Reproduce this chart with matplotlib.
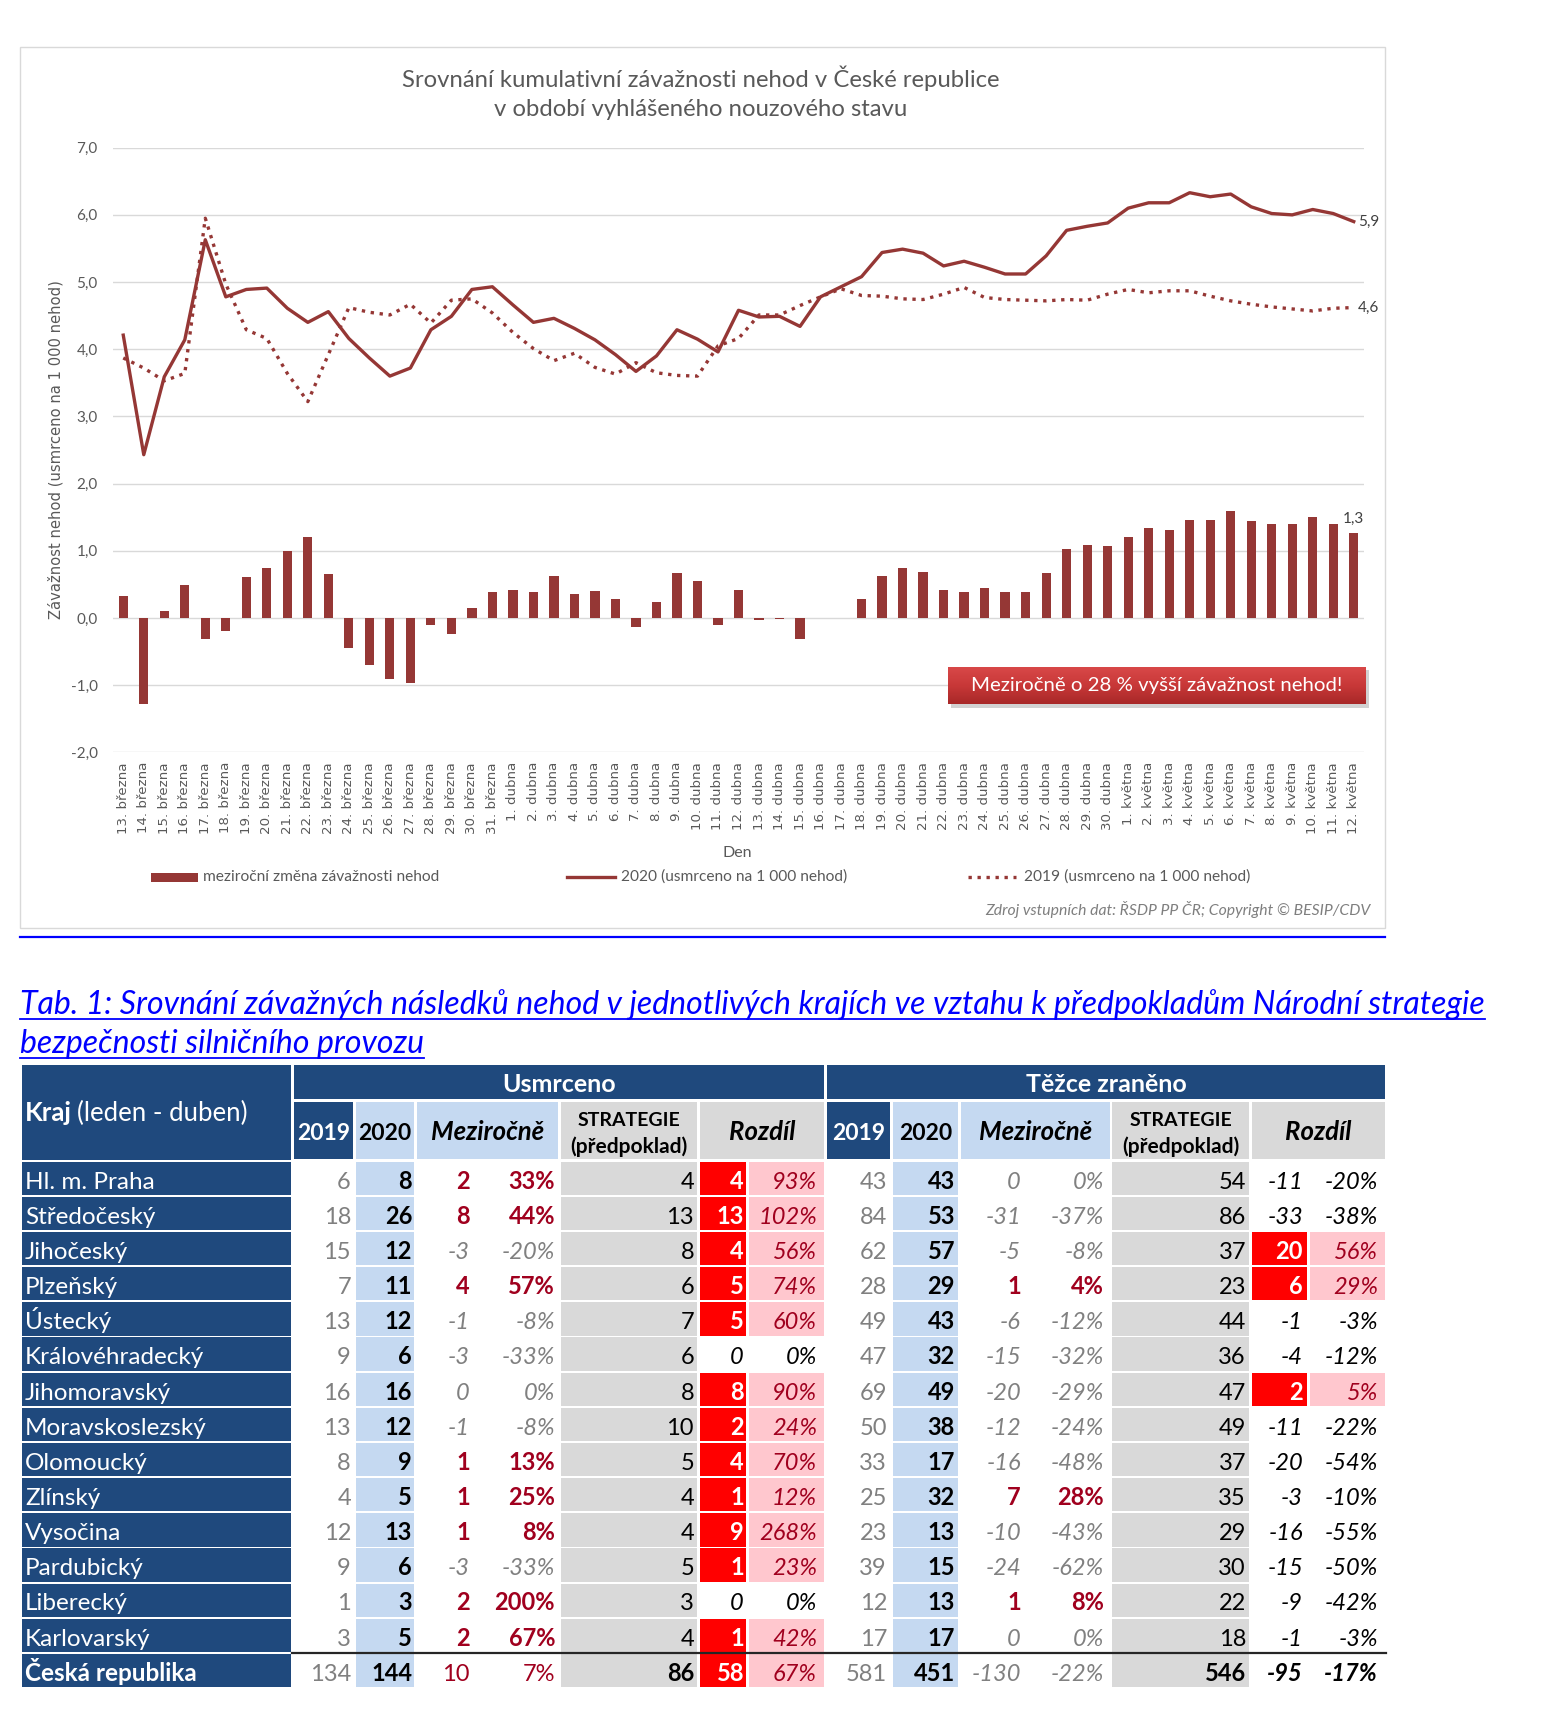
import numpy as np
import matplotlib
matplotlib.use("Agg")
import matplotlib.pyplot as plt
from matplotlib.patches import Rectangle
from matplotlib.colors import LinearSegmentedColormap

W, H = 1548, 1736
LATO = ["Lato", "DejaVu Sans"]
DEJAVU = ["DejaVu Sans"]

RED = "#953735"
GRID = "#D9D9D9"
GREY_TXT = "#595959"
DARK_BLUE = "#1F497D"
LIGHT_BLUE = "#C5D9F1"
CELL_GREY = "#D9D9D9"
BRIGHT_RED = "#FF0000"
PINK = "#FFC7CE"
DARK_RED = "#A0001E"
NUM_GREY = "#808080"

# --- chart data (13. 3. - 12. 5.) ---
days = ([f"{d}. března" for d in range(13, 32)]
        + [f"{d}. dubna" for d in range(1, 31)]
        + [f"{d}. května" for d in range(1, 13)])

sev_2020 = [4.21, 2.43, 3.59, 4.14, 5.63, 4.78, 4.89, 4.91, 4.61, 4.40,
            4.56, 4.16, 3.87, 3.60, 3.72, 4.29, 4.49, 4.89, 4.93, 4.66,
            4.40, 4.46, 4.31, 4.14, 3.92, 3.67, 3.90, 4.29, 4.15, 3.96,
            4.58, 4.48, 4.49, 4.34, 4.78, 4.93, 5.08, 5.44, 5.49, 5.43,
            5.24, 5.31, 5.22, 5.12, 5.12, 5.39, 5.77, 5.83, 5.88, 6.10,
            6.18, 6.18, 6.33, 6.27, 6.31, 6.12, 6.02, 6.00, 6.08, 6.02,
            5.90]

sev_2019 = [3.87, 3.72, 3.53, 3.64, 5.95, 4.97, 4.29, 4.16, 3.64, 3.22,
            3.92, 4.62, 4.55, 4.51, 4.67, 4.39, 4.73, 4.75, 4.54, 4.25,
            4.01, 3.83, 3.94, 3.73, 3.63, 3.80, 3.65, 3.61, 3.60, 4.05,
            4.16, 4.51, 4.51, 4.65, 4.78, 4.90, 4.80, 4.79, 4.75, 4.74,
            4.82, 4.92, 4.77, 4.74, 4.73, 4.72, 4.74, 4.73, 4.82, 4.89,
            4.84, 4.87, 4.87, 4.79, 4.72, 4.67, 4.63, 4.60, 4.57, 4.61,
            4.62]

yoy_change = [0.32, -1.28, 0.11, 0.49, -0.31, -0.20, 0.61, 0.74, 0.99, 1.21,
              0.65, -0.45, -0.70, -0.91, -0.97, -0.10, -0.24, 0.15, 0.38, 0.41,
              0.38, 0.63, 0.36, 0.40, 0.28, -0.14, 0.24, 0.67, 0.55, -0.11,
              0.42, -0.03, -0.02, -0.32, 0.0, 0.0, 0.28, 0.63, 0.74, 0.69,
              0.42, 0.38, 0.45, 0.38, 0.38, 0.67, 1.03, 1.09, 1.07, 1.21,
              1.34, 1.31, 1.46, 1.46, 1.59, 1.44, 1.40, 1.40, 1.50, 1.40,
              1.27]

# --- table data ---
regions = ["Hl. m. Praha", "Středočeský", "Jihočeský", "Plzeňský", "Ústecký",
           "Královéhradecký", "Jihomoravský", "Moravskoslezský", "Olomoucký",
           "Zlínský", "Vysočina", "Pardubický", "Liberecký", "Karlovarský",
           "Česká republika"]

usm_2019 = [6, 18, 15, 7, 13, 9, 16, 13, 8, 4, 12, 9, 1, 3, 134]
usm_2020 = [8, 26, 12, 11, 12, 6, 16, 12, 9, 5, 13, 6, 3, 5, 144]
usm_diff = [2, 8, -3, 4, -1, -3, 0, -1, 1, 1, 1, -3, 2, 2, 10]
usm_pct = ["33%", "44%", "-20%", "57%", "-8%", "-33%", "0%", "-8%", "13%",
           "25%", "8%", "-33%", "200%", "67%", "7%"]
usm_strat = [4, 13, 8, 6, 7, 6, 8, 10, 5, 4, 4, 5, 3, 4, 86]
usm_rozd = [4, 13, 4, 5, 5, 0, 8, 2, 4, 1, 9, 1, 0, 1, 58]
usm_rozd_pct = ["93%", "102%", "56%", "74%", "60%", "0%", "90%", "24%", "70%",
                "12%", "268%", "23%", "0%", "42%", "67%"]

tz_2019 = [43, 84, 62, 28, 49, 47, 69, 50, 33, 25, 23, 39, 12, 17, 581]
tz_2020 = [43, 53, 57, 29, 43, 32, 49, 38, 17, 32, 13, 15, 13, 17, 451]
tz_diff = [0, -31, -5, 1, -6, -15, -20, -12, -16, 7, -10, -24, 1, 0, -130]
tz_pct = ["0%", "-37%", "-8%", "4%", "-12%", "-32%", "-29%", "-24%", "-48%",
          "28%", "-43%", "-62%", "8%", "0%", "-22%"]
tz_strat = [54, 86, 37, 23, 44, 36, 47, 49, 37, 35, 29, 30, 22, 18, 546]
tz_rozd = [-11, -33, 20, 6, -1, -4, 2, -11, -20, -3, -16, -15, -9, -1, -95]
tz_rozd_pct = ["-20%", "-38%", "56%", "29%", "-3%", "-12%", "5%", "-22%", "-54%",
               "-10%", "-55%", "-50%", "-42%", "-3%", "-17%"]


def px(x, y, w, h):
    # axes rectangle from a pixel box measured from the top-left corner
    return [x / W, 1 - (y + h) / H, w / W, h / H]


fig = plt.figure(figsize=(W / 100, H / 100), dpi=100)

# ================= chart =================
ax = fig.add_axes(px(113, 147.7, 1251, 604.6))
x = np.arange(len(days))
ax.bar(x, yoy_change, width=0.45, color=RED, zorder=2)
ax.plot(x, sev_2020, color=RED, lw=2.4, solid_joinstyle="round", zorder=3)
ax.plot(x, sev_2019, color=RED, lw=2.4, linestyle=(0, (1, 1.7)), zorder=3)

ax.set_xlim(-0.5, len(days) - 0.5)
ax.set_ylim(-2, 7)
ax.set_yticks(range(-2, 8))
ax.set_yticklabels([f"{v},0" for v in range(-2, 8)], fontsize=11,
                   family=LATO, color=GREY_TXT)
ax.set_xticks(x)
ax.set_xticklabels(days, rotation=90, fontsize=9.6, family=DEJAVU, color=GREY_TXT)
ax.tick_params(axis="y", length=0, pad=11)
ax.tick_params(axis="x", length=0, pad=7)
ax.grid(axis="y", color=GRID, lw=1)
ax.set_axisbelow(True)
for s in ax.spines.values():
    s.set_visible(False)
ax.patch.set_alpha(0)

ax.annotate("5,9", (x[-1], sev_2020[-1]), xytext=(3, 0), textcoords="offset points",
            ha="left", va="center", fontsize=11, family=LATO, color="#404040")
ax.annotate("4,6", (x[-1], sev_2019[-1]), xytext=(3, 0), textcoords="offset points",
            ha="left", va="center", fontsize=11, family=LATO, color="#404040")
ax.annotate("1,3", (x[-1], yoy_change[-1]), xytext=(0, 5), textcoords="offset points",
            ha="center", va="bottom", fontsize=11, family=LATO, color="#404040")

# ================= overlay in pixel coordinates =================
ov = fig.add_axes([0, 0, 1, 1], zorder=5)
ov.set_xlim(0, W)
ov.set_ylim(H, 0)
ov.axis("off")

ov.add_patch(Rectangle((20, 47), 1365, 881, fill=False, edgecolor=GRID, lw=1))
ov.plot([20, 1385], [937, 937], color="#0000FF", lw=1.6)

ov.text(701, 78, "Srovnání kumulativní závažnosti nehod v České republice",
        ha="center", va="center", fontsize=17.2, family=LATO, color=GREY_TXT)
ov.text(701, 110, "v období vyhlášeného nouzového stavu",
        ha="center", va="center", fontsize=17.2, family=LATO, color=GREY_TXT)
ov.text(56, 450, "Závažnost nehod (usmrceno na 1 000 nehod)", rotation=90,
        ha="center", va="center", fontsize=10.6, family=DEJAVU, color=GREY_TXT)
ov.text(737, 853, "Den", ha="center", va="center", fontsize=11.5,
        family=LATO, color=GREY_TXT)

# legend
ov.add_patch(Rectangle((151, 872.5), 47, 9, facecolor=RED, edgecolor="none"))
ov.text(203, 877, "meziroční změna závažnosti nehod", ha="left", va="center",
        fontsize=11.2, family=LATO, color=GREY_TXT)
ov.plot([567, 615], [877, 877], color=RED, lw=2.4)
ov.text(621, 877, "2020 (usmrceno na 1 000 nehod)", ha="left", va="center",
        fontsize=11.2, family=LATO, color=GREY_TXT)
ov.plot([968, 1016], [877, 877], color=RED, lw=2.4, linestyle=(0, (1, 1.7)))
ov.text(1024, 877, "2019 (usmrceno na 1 000 nehod)", ha="left", va="center",
        fontsize=11.2, family=LATO, color=GREY_TXT)

ov.text(1370, 909, "Zdroj vstupních dat: ŘSDP PP ČR; Copyright © BESIP/CDV",
        ha="right", va="center", fontsize=11.3, fontstyle="italic",
        family=LATO, color="#7F7F7F")

# highlighted box
ov.add_patch(Rectangle((951, 670), 418, 38, facecolor="#7F7F7F", alpha=0.35,
                       edgecolor="none"))
grad = LinearSegmentedColormap.from_list("box", ["#D84848", "#C83838", "#A82828"])
ov.imshow(np.linspace(0, 1, 64).reshape(-1, 1), cmap=grad, aspect="auto",
          extent=[948, 1366, 704, 667], origin="upper", zorder=3)
ov.text(1157, 686, "Meziročně o 28 % vyšší závažnost nehod!", ha="center",
        va="center", fontsize=14.7, family=LATO, color="white", zorder=4)
ov.set_xlim(0, W)
ov.set_ylim(H, 0)

# ================= table =================
renderer = fig.canvas.get_renderer()

t1 = ov.text(20, 1014, "Tab. 1: Srovnání závažných následků nehod v jednotlivých krajích "
             "ve vztahu k předpokladům Národní strategie", ha="left", va="baseline",
             fontsize=23, fontstyle="italic", family=LATO, color="#0000FF")
t2 = ov.text(20, 1053, "bezpečnosti silničního provozu", ha="left", va="baseline",
             fontsize=23, fontstyle="italic", family=LATO, color="#0000FF")
for t, uy in ((t1, 1018.5), (t2, 1057.5)):
    bb = t.get_window_extent(renderer)
    ov.plot([bb.x0, bb.x1], [uy, uy], color="#0000FF", lw=1.3)


def cell(x0, x1, top, h, color):
    ov.add_patch(Rectangle((x0, top), x1 - x0, h, facecolor=color, edgecolor="none"))


def put(xpos, base, s, color="black", weight="normal", style="normal",
        size=17, ha="right"):
    return ov.text(xpos, base, s, ha=ha, va="baseline", color=color,
                   fontweight=weight, fontstyle=style, fontsize=size, family=LATO)


blocks = [
    dict(title="Usmrceno", v19=usm_2019, v20=usm_2020, dif=usm_diff, pct=usm_pct,
         strat=usm_strat, roz=usm_rozd, rozp=usm_rozd_pct,
         c19=(294, 353), c20=(356, 414), mez=(417, 558), st=(561, 697),
         ra=(700, 746), rp=(749, 824),
         t19=351, t20=412, tma=470, tmp=555, tst=694, tra=744, trp=817),
    dict(title="Těžce zraněno", v19=tz_2019, v20=tz_2020, dif=tz_diff, pct=tz_pct,
         strat=tz_strat, roz=tz_rozd, rozp=tz_rozd_pct,
         c19=(827, 890), c20=(893, 958), mez=(961, 1110), st=(1112, 1249),
         ra=(1252, 1307), rp=(1310, 1385),
         t19=887, t20=955, tma=1021, tmp=1104, tst=1246, tra=1303, trp=1378),
]

# header
cell(22, 291, 1065, 95, DARK_BLUE)
kt = put(25, 1121, "Kraj", color="white", weight="bold", size=18.5, ha="left")
kb = kt.get_window_extent(renderer)
put(kb.x1 + 5, 1121, "(leden - duben)", color="white", size=18.5, ha="left")

HTOP, HH = 1101.7, 57.5
for b in blocks:
    x0, x1 = b["c19"][0], b["rp"][1]
    cell(x0, x1, 1065, 34.3, DARK_BLUE)
    put((x0 + x1) / 2, 1091.5, b["title"], color="white", weight="bold",
        size=18, ha="center")
    cell(*b["c19"], HTOP, HH, DARK_BLUE)
    cell(*b["c20"], HTOP, HH, LIGHT_BLUE)
    cell(*b["mez"], HTOP, HH, LIGHT_BLUE)
    cell(*b["st"], HTOP, HH, CELL_GREY)
    cell(b["ra"][0], b["rp"][1], HTOP, HH, CELL_GREY)
    put(sum(b["c19"]) / 2, 1140.5, "2019", color="white", weight="bold",
        size=16.5, ha="center")
    put(sum(b["c20"]) / 2, 1140.5, "2020", weight="bold", size=16.5, ha="center")
    put(sum(b["mez"]) / 2, 1140.5, "Meziročně", weight="bold", style="italic",
        size=18.5, ha="center")
    put(sum(b["st"]) / 2, 1125.5, "STRATEGIE", weight="bold", size=14, ha="center")
    put(sum(b["st"]) / 2, 1153, "(předpoklad)", weight="bold", size=15, ha="center")
    put((b["ra"][0] + b["rp"][1]) / 2, 1140.5, "Rozdíl", weight="bold",
        style="italic", size=18.5, ha="center")

# rows
ROW0, PITCH, ROWH = 1161.7, 35.15, 33.3
for i, name in enumerate(regions):
    top = ROW0 + i * PITCH
    base = top + 27
    total = i == len(regions) - 1
    cell(22, 291, top, ROWH, DARK_BLUE)
    put(25, base, name, color="white", weight="bold" if total else "normal",
        size=17.5, ha="left")
    for b in blocks:
        cell(*b["c20"], top, ROWH, LIGHT_BLUE)
        cell(*b["st"], top, ROWH, CELL_GREY)
        put(b["t19"], base, str(b["v19"][i]), color=NUM_GREY)
        put(b["t20"], base, str(b["v20"][i]), weight="bold")
        if b["dif"][i] > 0:
            w = "normal" if total else "bold"
            put(b["tma"], base, str(b["dif"][i]), color=DARK_RED, weight=w)
            put(b["tmp"], base, b["pct"][i], color=DARK_RED, weight=w)
        else:
            put(b["tma"], base, str(b["dif"][i]), color=NUM_GREY, style="italic")
            put(b["tmp"], base, b["pct"][i], color=NUM_GREY, style="italic")
        put(b["tst"], base, str(b["strat"][i]), weight="bold" if total else "normal")
        if b["roz"][i] > 0:
            cell(*b["ra"], top, ROWH, BRIGHT_RED)
            cell(*b["rp"], top, ROWH, PINK)
            put(b["tra"], base, str(b["roz"][i]), color="white", weight="bold")
            put(b["trp"], base, b["rozp"][i], color=DARK_RED, style="italic")
        else:
            w = "bold" if total else "normal"
            put(b["tra"], base, str(b["roz"][i]), weight=w, style="italic")
            put(b["trp"], base, b["rozp"][i], weight=w, style="italic")

# rule above the total row
ov.plot([292, 1386], [ROW0 + 14 * PITCH - 0.8] * 2, color="#262626", lw=1.6)

fig.savefig("out.png", dpi=100)
